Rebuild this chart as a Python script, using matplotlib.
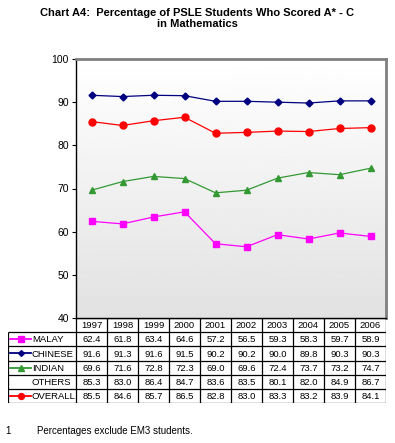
import matplotlib.pyplot as plt
import numpy as np

plt.rcParams['font.family'] = ['Liberation Sans', 'DejaVu Sans']

years = ['1997', '1998', '1999', '2000', '2001', '2002', '2003', '2004', '2005', '2006']
malay = [62.4, 61.8, 63.4, 64.6, 57.2, 56.5, 59.3, 58.3, 59.7, 58.9]
chinese = [91.6, 91.3, 91.6, 91.5, 90.2, 90.2, 90.0, 89.8, 90.3, 90.3]
indian = [69.6, 71.6, 72.8, 72.3, 69.0, 69.6, 72.4, 73.7, 73.2, 74.7]
others = [85.3, 83.0, 86.4, 84.7, 83.6, 83.5, 80.1, 82.0, 84.9, 86.7]
overall = [85.5, 84.6, 85.7, 86.5, 82.8, 83.0, 83.3, 83.2, 83.9, 84.1]

series = [
    ('MALAY', malay, '#ff00ff', 's', 4.5),
    ('CHINESE', chinese, '#000080', 'D', 3.5),
    ('INDIAN', indian, '#339933', '^', 5),
    ('OTHERS', others, None, None, 0),
    ('OVERALL', overall, '#ff0000', 'o', 5),
]

W, H = 395, 443
fig = plt.figure(figsize=(W / 100, H / 100), dpi=100)
fig.patch.set_facecolor('white')

L, R, T, B = 76, 386, 59, 318
ax = fig.add_axes([L / W, 1 - B / H, (R - L) / W, (B - T) / H])
x = np.arange(len(years))

# gradient background
grad = np.linspace(1.0, 0.885, 256).reshape(-1, 1)
ax.imshow(grad, cmap='gray', vmin=0, vmax=1, aspect='auto',
          extent=(-0.5, len(years) - 0.5, 40, 100), zorder=0)

for name, vals, col, mk, ms in series:
    if col is None:
        continue
    ax.plot(x, vals, color=col, marker=mk, markersize=ms, linewidth=0.9, zorder=3)

ax.set_xlim(-0.5, len(years) - 0.5)
ax.set_ylim(40, 100)
ax.set_yticks(range(40, 101, 10))
ax.set_xticks([])
ax.tick_params(axis='y', labelsize=7.5, length=3, width=0.8, pad=2)
ax.spines['left'].set_color('black')
ax.spines['left'].set_linewidth(1.0)
ax.spines['bottom'].set_color('black')
ax.spines['bottom'].set_linewidth(1.0)
ax.spines['top'].set_color('#808080')
ax.spines['top'].set_linewidth(2)
ax.spines['right'].set_color('#808080')
ax.spines['right'].set_linewidth(2)

# data table below the chart
TL, TT, TB = 8, 318, 403
nrows = len(series) + 1
colw = (R - L) / len(years)
labw = (L - TL) / colw
tax = fig.add_axes([TL / W, 1 - TB / H, (R - TL) / W, (TB - TT) / H])
tax.set_xlim(-0.5 - labw, len(years) - 0.5)
tax.set_ylim(nrows, 0)
tax.axis('off')

lw = 0.9
tax.hlines(0, -0.5, len(years) - 0.5, color='black', lw=lw)
for r in range(1, nrows + 1):
    tax.hlines(r, -0.5 - labw, len(years) - 0.5, color='black', lw=lw)
tax.vlines(-0.5 - labw, 1, nrows, color='black', lw=lw)
for c in range(len(years) + 1):
    tax.vlines(c - 0.5, 0, nrows, color='black', lw=lw)

fs = 6.8
for i, yr in enumerate(years):
    tax.text(i, 0.55, yr, ha='center', va='center', fontsize=fs)

for r, (name, vals, col, mk, ms) in enumerate(series, start=1):
    yc = r + 0.5
    x0 = -0.5 - labw
    if col is not None:
        tax.plot([x0 + 0.08, x0 + 0.74], [yc, yc], color=col, lw=1.3)
        tax.plot([x0 + 0.42], [yc], color=col, marker=mk, markersize=ms * 0.85)
    tax.text(x0 + 0.77, yc + 0.05, name, ha='left', va='center', fontsize=fs)
    for i, v in enumerate(vals):
        tax.text(i, yc + 0.05, f'{v:.1f}', ha='center', va='center', fontsize=fs)

fig.text(0.5, 1 - 13 / H, 'Chart A4:  Percentage of PSLE Students Who Scored A* - C',
         ha='center', va='center', fontsize=8, fontweight='bold')
fig.text(0.5, 1 - 24 / H, 'in Mathematics',
         ha='center', va='center', fontsize=8, fontweight='bold')

fig.text(5 / W, 1 - 431 / H, '1', ha='left', va='center', fontsize=7)
fig.text(37 / W, 1 - 431 / H, 'Percentages exclude EM3 students.',
         ha='left', va='center', fontsize=7)

fig.savefig('out.png', dpi=100)
